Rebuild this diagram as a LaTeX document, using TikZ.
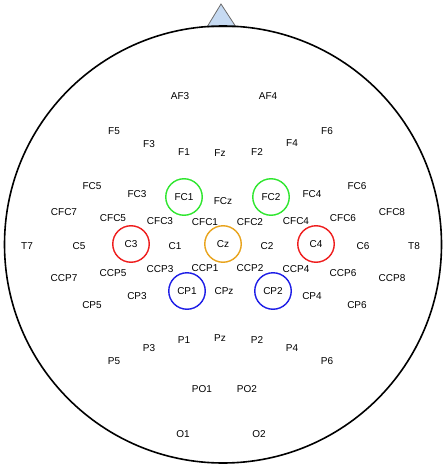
\documentclass[tikz,border=0pt]{standalone}
\usepackage{fontspec}
\setmainfont{Liberation Sans}
\definecolor{cgreen}{HTML}{2EE62E}
\definecolor{cred}{HTML}{EE1C1C}
\definecolor{corange}{HTML}{E8A31C}
\definecolor{cblue}{HTML}{1C1CE6}
\definecolor{cnose}{HTML}{C6DAF2}
\definecolor{cgrey}{HTML}{6B6B6B}
\tikzset{
  every picture/.style={font=\fontsize{10}{12}\selectfont},
  head/.style={draw=black, line width=1.6pt},
  nose/.style={draw=cgrey, fill=cnose, line width=0.8pt},
  elec/.style={inner sep=0pt},
  ring/.style={draw=#1, circle, line width=1.4pt, minimum size=36.5pt, inner sep=0pt},
}
\begin{document}
\begin{tikzpicture}[x=1pt, y=-1pt]
  \useasboundingbox (0,0) rectangle (447,468);
  % nose and head
  \draw[nose] (207,27) -- (221,4) -- (236,27) -- cycle;
  \draw[head] (223,244.5) circle (218.5);
  % plain electrodes
  \foreach \name/\x/\y in {AF3/180/96, AF4/268/96,
      F5/114/131, F3/149/144, F1/184/152, Fz/220/153, F2/257/152, F4/292/143, F6/327/131,
      FC5/92/186, FC3/137/194, FCz/223/201, FC4/312/194, FC6/357/186,
      CFC7/64/212, CFC5/113/218, CFC3/160/221, CFC1/205/222, CFC2/250/222, CFC4/296/221, CFC6/343/218, CFC8/392/212,
      T7/27/246, C5/79/246, C1/175/246, C2/267/246, C6/363/246, T8/414/246,
      CCP7/64/278, CCP5/113/273, CCP3/160/269, CCP1/205/268, CCP2/250/268, CCP4/296/269, CCP6/343/273, CCP8/392/278,
      CP5/92/305, CP3/137/296, CPz/224/291, CP4/312/296, CP6/357/305,
      P5/114/361, P3/149/348, P1/184/340, Pz/220/338, P2/257/340, P4/292/348, P6/327/361,
      PO1/202/389, PO2/247/389, O1/183/434, O2/259/434}
    \node[elec] (\name) at (\x,\y) {\name};
  % highlighted electrodes
  \foreach \name/\x/\y/\col in {FC1/184/197/cgreen, FC2/271/197/cgreen,
      C3/131/244/cred, Cz/223/244/corange, C4/316/244/cred,
      CP1/187/291/cblue, CP2/273/291/cblue}
    \node[ring=\col] (\name) at (\x,\y) {\name};
\end{tikzpicture}
\end{document}
